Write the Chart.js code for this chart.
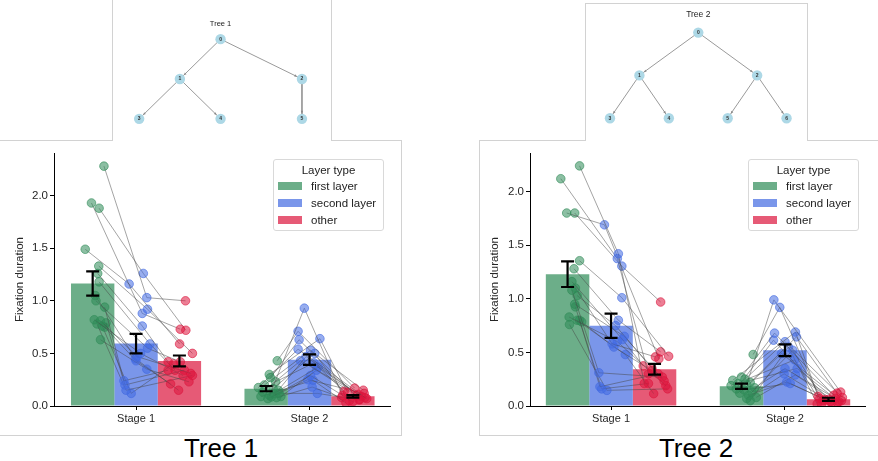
<!DOCTYPE html>
<html>
<head>
<meta charset="utf-8">
<script src="https://cdn.jsdelivr.net/npm/chart.js@4.4.1/dist/chart.umd.min.js"></script>
<style>
  body { margin: 0; width: 878px; height: 461px; overflow: hidden; background: #fff; position: relative;
         font-family: "Liberation Sans", Arial, sans-serif; }
  .panel { position: absolute; border: 1px solid #d2d2d2; box-sizing: border-box; background: #fff; }
  canvas { position: absolute; }
  .legend { position: absolute; width: 111px; height: 72px; box-sizing: border-box; border: 1px solid #d9d9d9;
            border-radius: 3px; background: rgba(255,255,255,0.85); font-size: 11.5px; color: #222; z-index: 5; }
  .legend .ttl { position: absolute; left: 0; right: 0; top: 3px; line-height: 14px; text-align: center; }
  .legend .row { position: absolute; left: 0; right: 0; height: 14px; line-height: 14px; }
  .legend .sw { position: absolute; left: 4px; top: 3px; width: 24px; height: 8px; }
  .legend .lb { position: absolute; left: 37px; top: 0; white-space: nowrap; }
  .big { position: absolute; top: 435px; width: 200px; text-align: center; font-size: 26px; line-height: 26px; color: #000; }
</style>
</head>
<body>
<div class="panel" style="left:-1px;top:140px;width:403px;height:296px;"></div>
<div class="panel" style="left:479px;top:140px;width:410px;height:296px;"></div>
<div class="panel" style="left:112px;top:0;width:220px;height:141px;border-top:none;border-bottom:none;z-index:2;"></div>
<div class="panel" style="left:585px;top:3px;width:223px;height:138px;border-bottom:none;z-index:2;"></div>

<canvas id="chart1" width="400" height="293" style="left:0;top:141px;z-index:1"></canvas>
<canvas id="chart2" width="398" height="293" style="left:480px;top:141px;z-index:1"></canvas>
<canvas id="tree1" width="217" height="141" style="left:113px;top:0;z-index:3"></canvas>
<canvas id="tree2" width="221" height="137" style="left:586px;top:4px;z-index:3"></canvas>

<div class="big" style="left:121px">Tree 1</div>
<div class="big" style="left:596px">Tree 2</div>

<script>
const stageLabels = ['Stage 1', 'Stage 2'];
const layerLabels = ['first layer', 'second layer', 'other'];
const yTicks = [0, 0.5, 1.0, 1.5, 2.0];

// Tree 1: bar means and error bars (per stage)
const t1FirstMean = [1.165, 0.165];
const t1SecondMean = [0.593, 0.44];
const t1OtherMean = [0.428, 0.092];
const t1FirstErr = [0.115, 0.025];
const t1SecondErr = [0.092, 0.05];
const t1OtherErr = [0.052, 0.012];

// Tree 1: per-subject values
const t1S1First = [2.28, 1.93, 1.88, 1.49, 1.33, 1.26, 1.18, 1.00, 0.94, 0.82, 0.81, 0.79, 0.75, 0.63, 0.78, 0.76, 1.05];
const t1S1Second = [1.03, 0.88, 1.26, 1.16, 0.92, 0.76, 0.59, 0.55, 0.24, 0.50, 0.47, 0.20, 0.43, 0.35, 0.15, 0.12, 0.45];
const t1S1Other = [1.00, 0.73, 0.72, 0.59, 0.50, 0.42, 0.34, 0.42, 0.34, 0.29, 0.31, 0.34, 0.21, 0.23, 0.29, 0.40, 0.15];
const t1S2First = [0.10, 0.43, 0.27, 0.30, 0.175, 0.20, 0.165, 0.15, 0.133, 0.23, 0.118, 0.09, 0.086, 0.07, 0.09, 0.08, 0.12];
const t1S2Second = [0.93, 0.71, 0.63, 0.64, 0.54, 0.53, 0.50, 0.47, 0.43, 0.41, 0.37, 0.34, 0.29, 0.25, 0.245, 0.18, 0.12];
const t1S2Other = [0.10, 0.17, 0.06, 0.13, 0.08, 0.15, 0.05, 0.11, 0.07, 0.14, 0.09, 0.10, 0.04, 0.12, 0.03, 0.08, 0.06];
// Tree 1: horizontal jitter of each dot (fraction of a stage)
const t1S1FirstJit = [0.065, -0.007, 0.037, -0.043, 0.035, 0.029, 0.037, 0.019, 0.069, 0.009, 0.045, 0.077, 0.069, 0.045, 0.025, 0.055, 0.015];
const t1S1SecondJit = [0.062, 0.036, 0.042, -0.04, 0.066, 0.036, 0.08, 0.066, -0.07, 0.026, 0.006, -0.064, 0, 0.062, -0.058, -0.028, -0.004];
const t1S1OtherJit = [0.035, 0.005, 0.037, 0.001, 0.075, -0.065, -0.025, 0.005, -0.065, 0.021, 0.065, 0.029, -0.051, 0.055, 0.075, -0.035, -0.005];
const t1S2FirstJit = [0.02, 0.064, 0.025, 0.018, -0.045, -0.01, 0.04, 0.07, -0.02, 0.055, 0.045, 0.085, 0.03, 0.01, -0.03, 0.06, 0.075];
const t1S2SecondJit = [-0.03, -0.066, -0.06, 0.06, -0.066, 0.006, 0.03, -0.02, -0.052, 0.025, 0.05, 0.04, 0.006, -0.01, 0.02, 0.015, 0.045];
const t1S2OtherJit = [-0.06, 0.01, 0.04, -0.03, 0.07, 0.06, -0.02, 0.03, 0.08, -0.05, 0.05, 0.02, 0.0, 0.065, -0.04, -0.065, 0.035];

// Tree 2: bar means and error bars
const t2FirstMean = [1.23, 0.184];
const t2SecondMean = [0.748, 0.52];
const t2OtherMean = [0.343, 0.062];
const t2FirstErr = [0.12, 0.024];
const t2SecondErr = [0.113, 0.055];
const t2OtherErr = [0.05, 0.015];

// Tree 2: per-subject values
const t2S1First = [2.24, 2.12, 1.80, 1.80, 1.355, 1.28, 1.16, 1.10, 1.08, 1.03, 0.95, 0.925, 0.83, 0.80, 0.785, 0.76, 0.80];
const t2S1Second = [1.42, 1.375, 1.69, 1.305, 1.01, 0.80, 0.62, 0.58, 0.31, 0.75, 0.65, 0.18, 0.60, 0.16, 0.55, 0.146, 0.48];
const t2S1Other = [0.21, 0.30, 0.44, 0.97, 0.464, 0.505, 0.374, 0.458, 0.27, 0.35, 0.234, 0.30, 0.19, 0.21, 0.33, 0.16, 0.115];
const t2S2First = [0.20, 0.48, 0.27, 0.24, 0.22, 0.16, 0.25, 0.13, 0.17, 0.21, 0.10, 0.15, 0.12, 0.19, 0.07, 0.08, 0.05];
const t2S2Second = [0.99, 0.92, 0.68, 0.69, 0.645, 0.614, 0.60, 0.52, 0.35, 0.35, 0.224, 0.21, 0.49, 0.43, 0.30, 0.29, 0.55];
const t2S2Other = [0.13, 0.07, 0.10, 0.09, 0.12, 0.06, 0.08, 0.05, 0.07, 0.04, 0.06, 0.03, 0.05, 0.02, 0.04, 0.03, 0.02];
const t2S1FirstJit = [0.069, -0.039, -0.005, 0.041, 0.069, 0.037, 0.025, 0.045, 0.025, 0.055, 0.041, 0.045, 0.009, 0.069, 0.081, 0.011, 0.055];
const t2S1SecondJit = [0.042, 0.036, -0.038, 0.062, 0.062, 0.042, 0.066, 0.006, -0.07, 0.026, 0.076, -0.064, 0.036, -0.054, 0.016, -0.024, 0.082];
const t2S1OtherJit = [-0.059, -0.035, 0.025, 0.035, 0.081, 0.035, -0.065, 0.005, 0.045, -0.015, 0.055, 0.021, 0.065, -0.035, -0.015, 0.075, -0.005];
const t2S2FirstJit = [0.03, 0.067, 0.0, -0.05, 0.05, -0.03, 0.02, 0.06, 0.075, -0.02, 0.04, 0.015, -0.01, -0.06, 0.03, 0.085, 0.05];
const t2S2SecondJit = [-0.064, -0.03, -0.06, 0.06, 0.066, -0.066, 0.0, 0.045, 0.0, 0.07, 0.01, 0.03, -0.02, 0.055, -0.005, 0.06, 0.02];
const t2S2OtherJit = [0.07, -0.05, 0.03, -0.06, 0.05, 0.0, 0.08, -0.03, 0.04, 0.06, -0.02, 0.02, 0.075, -0.04, 0.01, 0.05, -0.065];

// tree diagrams: node x position (layout units), depth, edges
const tree1NodeX = [2, 1, 4, 0, 2, 4];
const tree1NodeDepth = [0, 1, 1, 2, 2, 2];
const tree1Edges = [[0, 1], [0, 2], [1, 3], [1, 4], [2, 5]];
const tree2NodeX = [1.5, 0.5, 2.5, 0, 1, 2, 3];
const tree2NodeDepth = [0, 1, 1, 2, 2, 2, 2];
const tree2Edges = [[0, 1], [0, 2], [1, 3], [1, 4], [2, 5], [2, 6]];

const FONT = '"Liberation Sans", Arial, sans-serif';
Chart.defaults.font.family = FONT;
Chart.defaults.color = '#262626';

const layerColors = [[46, 139, 87], [65, 105, 225], [220, 20, 60]];
const layerOffsets = [-0.25, 0, 0.25];
const rgba = (c, a) => 'rgba(' + c[0] + ',' + c[1] + ',' + c[2] + ',' + a + ')';

function buildPanel(id, p) {
  const datasets = [];
  p.means.forEach((m, i) => {
    datasets.push({
      type: 'bar', label: layerLabels[i],
      data: m.map((v, s) => ({x: s, y: v})),
      backgroundColor: rgba(layerColors[i], 0.7), borderWidth: 0,
      categoryPercentage: 0.75, barPercentage: 1, order: 10
    });
  });
  for (let s = 0; s < 2; s++) {
    const vals = p.subjects[s];
    const jits = p.jitter[s];
    for (let k = 0; k < vals[0].length; k++) {
      datasets.push({
        type: 'line', label: '',
        data: [0, 1, 2].map(i => ({x: s + layerOffsets[i] + jits[i][k], y: vals[i][k]})),
        borderColor: 'rgba(70,70,70,0.55)', borderWidth: 0.9,
        pointRadius: 4.3,
        pointBackgroundColor: layerColors.map(c => rgba(c, 0.55)),
        pointBorderColor: layerColors.map(c => rgba(c, 0.6)),
        pointBorderWidth: 1, order: 1
      });
    }
  }

  // mean +/- error, drawn with the chart's own scales
  const errorBars = {
    id: 'errorBars',
    afterDatasetsDraw(chart) {
      const ctx = chart.ctx, xs = chart.scales.x, ys = chart.scales.y;
      ctx.save();
      ctx.strokeStyle = '#000';
      ctx.lineWidth = 2.2;
      p.means.forEach((m, i) => {
        m.forEach((v, s) => {
          const x = xs.getPixelForValue(s + layerOffsets[i]);
          const top = ys.getPixelForValue(v + p.errs[i][s]);
          const bot = ys.getPixelForValue(v - p.errs[i][s]);
          ctx.beginPath();
          ctx.moveTo(x, top); ctx.lineTo(x, bot);
          ctx.moveTo(x - 6.5, top); ctx.lineTo(x + 6.5, top);
          ctx.moveTo(x - 6.5, bot); ctx.lineTo(x + 6.5, bot);
          ctx.stroke();
        });
      });
      ctx.restore();
    }
  };

  new Chart(document.getElementById(id), {
    type: 'bar',
    data: {datasets},
    plugins: [errorBars],
    options: {
      responsive: false, animation: false, devicePixelRatio: 1,
      layout: {padding: {top: 12, right: p.padRight, left: 0, bottom: 0}},
      plugins: {legend: {display: false}, tooltip: {enabled: false}},
      scales: {
        x: {
          type: 'linear', min: p.xMin, max: p.xMax, offset: false,
          afterBuildTicks: sc => { sc.ticks = stageLabels.map((_, i) => ({value: i})); },
          afterFit: sc => { sc.height = 28; },
          ticks: {callback: v => stageLabels[v], padding: 2, font: {size: 11}, autoSkip: false, maxRotation: 0},
          grid: {display: true, drawOnChartArea: false, drawTicks: true, tickLength: 4, color: '#000', offset: false},
          border: {display: true, color: '#000', width: 1}
        },
        y: {
          min: 0, max: p.yMax,
          afterBuildTicks: sc => { sc.ticks = yTicks.map(v => ({value: v})); },
          afterFit: sc => { sc.width = p.yWidth; },
          ticks: {callback: v => v.toFixed(1), padding: 2, font: {size: 11.5}},
          grid: {display: true, drawOnChartArea: false, drawTicks: true, tickLength: 4, color: '#000'},
          border: {display: true, color: '#000', width: 1},
          title: {display: true, text: 'Fixation duration', font: {size: 11.5}, padding: {top: p.titlePad, bottom: 0}}
        }
      }
    }
  });
}

function buildLegend(left, top) {
  const box = document.createElement('div');
  box.className = 'legend';
  box.style.left = left + 'px';
  box.style.top = top + 'px';
  const t = document.createElement('div');
  t.className = 'ttl';
  t.textContent = 'Layer type';
  box.appendChild(t);
  layerLabels.forEach((lab, i) => {
    const row = document.createElement('div');
    row.className = 'row';
    row.style.top = (19 + i * 17) + 'px';
    row.innerHTML = '<span class="sw" style="background:' + rgba(layerColors[i], 0.7) + '"></span><span class="lb">' + lab + '</span>';
    box.appendChild(row);
  });
  document.body.appendChild(box);
}

function buildTree(id, nodeX, nodeDepth, edges, title, titleY, titleSize, xr, yr) {
  const pt = i => ({x: nodeX[i], y: nodeDepth[i]});
  const datasets = edges.map(e => ({
    type: 'line', data: [pt(e[0]), pt(e[1])], borderColor: '#9a9a9a', borderWidth: 1,
    pointRadius: 0, order: 5
  }));
  datasets.push({
    type: 'scatter', data: nodeX.map((_, i) => pt(i)),
    pointRadius: 5.2, pointBackgroundColor: '#add8e6', pointBorderWidth: 0, order: 1
  });
  const labels = {
    id: 'treeLabels',
    afterDatasetsDraw(chart) {
      const ctx = chart.ctx, xs = chart.scales.x, ys = chart.scales.y;
      ctx.save();
      // arrow heads at the child end of each edge
      ctx.fillStyle = '#8a8a8a';
      edges.forEach(e => {
        const x0 = xs.getPixelForValue(nodeX[e[0]]), y0 = ys.getPixelForValue(nodeDepth[e[0]]);
        const x1 = xs.getPixelForValue(nodeX[e[1]]), y1 = ys.getPixelForValue(nodeDepth[e[1]]);
        const a = Math.atan2(y1 - y0, x1 - x0);
        const tx = x1 - Math.cos(a) * 5.4, ty = y1 - Math.sin(a) * 5.4;
        ctx.beginPath();
        ctx.moveTo(tx, ty);
        ctx.lineTo(tx - Math.cos(a - 0.4) * 3, ty - Math.sin(a - 0.4) * 3);
        ctx.lineTo(tx - Math.cos(a + 0.4) * 3, ty - Math.sin(a + 0.4) * 3);
        ctx.closePath();
        ctx.fill();
      });
      ctx.fillStyle = '#333';
      ctx.font = 'bold 5px ' + FONT;
      ctx.textAlign = 'center';
      ctx.textBaseline = 'middle';
      nodeX.forEach((nx, i) => ctx.fillText(String(i), xs.getPixelForValue(nx), ys.getPixelForValue(nodeDepth[i])));
      ctx.fillStyle = '#222';
      ctx.font = titleSize + 'px ' + FONT;
      ctx.fillText(title, xs.getPixelForValue(nodeX[0]), titleY);
      ctx.restore();
    }
  };
  new Chart(document.getElementById(id), {
    type: 'scatter',
    data: {datasets},
    plugins: [labels],
    options: {
      responsive: false, animation: false, devicePixelRatio: 1,
      layout: {padding: 0},
      plugins: {legend: {display: false}, tooltip: {enabled: false}},
      scales: {
        x: {type: 'linear', display: false, min: xr[0], max: xr[1]},
        y: {type: 'linear', display: false, min: yr[0], max: yr[1], reverse: true}
      }
    }
  });
}

buildPanel('chart1', {
  means: [t1FirstMean, t1SecondMean, t1OtherMean],
  errs: [t1FirstErr, t1SecondErr, t1OtherErr],
  subjects: [[t1S1First, t1S1Second, t1S1Other], [t1S2First, t1S2Second, t1S2Other]],
  jitter: [[t1S1FirstJit, t1S1SecondJit, t1S1OtherJit], [t1S2FirstJit, t1S2SecondJit, t1S2OtherJit]],
  xMin: -0.473, xMax: 1.464, yMax: 2.405, yWidth: 54, padRight: 10, titlePad: 13
});
buildPanel('chart2', {
  means: [t2FirstMean, t2SecondMean, t2OtherMean],
  errs: [t2FirstErr, t2SecondErr, t2OtherErr],
  subjects: [[t2S1First, t2S1Second, t2S1Other], [t2S2First, t2S2Second, t2S2Other]],
  jitter: [[t2S1FirstJit, t2S1SecondJit, t2S1OtherJit], [t2S2FirstJit, t2S2SecondJit, t2S2OtherJit]],
  xMin: -0.466, xMax: 1.46, yMax: 2.36, yWidth: 50, padRight: 13, titlePad: 8
});
buildLegend(273, 159);
buildLegend(748, 159);
buildTree('tree1', tree1NodeX, tree1NodeDepth, tree1Edges, 'Tree 1', 24, 7.5, [-0.515, 4.561], [-0.853, 2.426]);
buildTree('tree2', tree2NodeX, tree2NodeDepth, tree2Edges, 'Tree 2', 11, 8.5, [-0.319, 3.259], [-0.546, 2.41]);
</script>
</body>
</html>
